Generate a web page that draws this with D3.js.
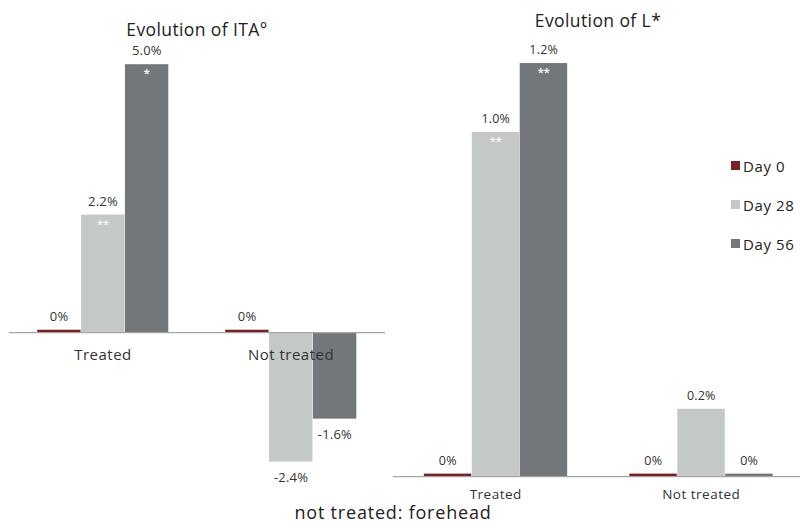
<!DOCTYPE html>
<html>
<head>
<meta charset="utf-8">
<script src="https://cdn.jsdelivr.net/npm/d3@7"></script>
<style>
  body { margin: 0; background: #fff; }
  svg { font-family: "Open Sans", "DejaVu Sans", sans-serif; }
  .title { fill: #222; letter-spacing: 0.4px; }
  .val { fill: #333; letter-spacing: 0.2px; }
  .cat { fill: #333; letter-spacing: 0.5px; }
  .star { fill: #f2f2f2; }
</style>
</head>
<body>
<svg id="chart" width="800" height="523"></svg>
<script>
// categories and series
const categories = ['Treated', 'Not treated'];
const series = ['Day 0', 'Day 28', 'Day 56'];
const colors = ['#7b1f24', '#c4c9c8', '#74777a'];

// Evolution of ITA° (%), one row per category, in series order
const itaValues = [[0.055, 2.2, 5.0], [0.055, -2.4, -1.6]];
const itaLabels = [['0%', '2.2%', '5.0%'], ['0%', '-2.4%', '-1.6%']];
const itaStars = [['', '**', '*'], ['', '', '']];

// Evolution of L* (%)
const lValues = [[0.009, 1.0, 1.2], [0.009, 0.197, 0.009]];
const lLabels = [['0%', '1.0%', '1.2%'], ['0%', '0.2%', '0%']];
const lStars = [['', '**', '**'], ['', '', '']];

const svg = d3.select('#chart');

function drawPanel(opt) {
  const x = d3.scaleBand().domain(categories).range(opt.xRange).paddingInner(0.3).paddingOuter(0.15);
  const xs = d3.scaleBand().domain(series).range([0, x.bandwidth()]);
  const y = d3.scaleLinear().domain(opt.yDomain).range(opt.yRange);
  const g = svg.append('g');

  const rows = [];
  categories.forEach((c, i) => {
    series.forEach((s, j) => {
      rows.push({c: c, s: s, j: j, v: opt.values[i][j], label: opt.labels[i][j], star: opt.stars[i][j]});
    });
  });

  g.selectAll('.bar')
    .data(rows)
    .join('rect')
    .attr('x', (d) => x(d.c) + xs(d.s))
    .attr('width', xs.bandwidth() - 0.5)
    .attr('y', (d) => y(Math.max(0, d.v)))
    .attr('height', (d) => Math.abs(y(d.v) - y(0)))
    .attr('fill', (d) => colors[d.j]);

  // axis line at zero
  g.append('line')
    .attr('x1', opt.xRange[0]).attr('x2', opt.axisEnd)
    .attr('y1', y(0)).attr('y2', y(0))
    .attr('stroke', '#a6a6a6').attr('stroke-width', 1.2);

  g.selectAll('.val')
    .data(rows)
    .join('text')
    .attr('class', 'val')
    .attr('x', (d) => x(d.c) + xs(d.s) + xs.bandwidth() / 2)
    .attr('y', (d) => d.v >= 0 ? y(d.v) - opt.labelGap : y(d.v) + opt.labelGap + opt.valSize - 2)
    .attr('text-anchor', 'middle')
    .attr('font-size', opt.valSize)
    .text((d) => d.label);

  g.selectAll('.star')
    .data(rows.filter((d) => d.star))
    .join('text')
    .attr('class', 'star')
    .attr('x', (d) => x(d.c) + xs(d.s) + xs.bandwidth() / 2)
    .attr('y', (d) => y(d.v) + 13)
    .attr('text-anchor', 'middle')
    .attr('font-size', 11)
    .attr('font-weight', 'bold')
    .text((d) => d.star);

  g.selectAll('.cat')
    .data(categories)
    .join('text')
    .attr('class', 'cat')
    .attr('x', (c) => x(c) + x.bandwidth() / 2)
    .attr('y', y(0) + opt.catGap)
    .attr('text-anchor', 'middle')
    .attr('font-size', opt.catSize)
    .text((c) => c);

  g.append('text')
    .attr('class', 'title')
    .attr('x', opt.titleX).attr('y', opt.titleY)
    .attr('text-anchor', 'middle')
    .attr('font-size', opt.titleSize)
    .text(opt.title);
}

drawPanel({
  title: 'Evolution of ITA°', titleX: 197, titleY: 36, titleSize: 17.5,
  values: itaValues, labels: itaLabels, stars: itaStars,
  xRange: [9, 385], axisEnd: 385,
  yDomain: [-3, 5.5], yRange: [332.7 + 3 * 53.7, 332.7 - 5.5 * 53.7],
  labelGap: 9, valSize: 13, catSize: 15, catGap: 27
});

drawPanel({
  title: 'Evolution of L*', titleX: 598, titleY: 27, titleSize: 17.5,
  values: lValues, labels: lLabels, stars: lStars,
  xRange: [393, 804], axisEnd: 800,
  yDomain: [0, 1.3], yRange: [476.7, 476.7 - 1.3 * 344.7],
  labelGap: 9, valSize: 12.5, catSize: 13.5, catGap: 22
});

// legend
const legend = svg.append('g').attr('transform', 'translate(731,161)');
const item = legend.selectAll('g')
  .data(series)
  .join('g')
  .attr('transform', (d, i) => `translate(0,${i * 39})`);
item.append('rect').attr('width', 9).attr('height', 9).attr('fill', (d, i) => colors[i]);
item.append('text').attr('x', 12).attr('y', 10.5).attr('font-size', 15)
  .attr('letter-spacing', 0.6).attr('fill', '#222').text((d) => d);

svg.append('text')
  .attr('x', 393).attr('y', 519)
  .attr('text-anchor', 'middle')
  .attr('font-size', 18)
  .attr('letter-spacing', 0.8)
  .attr('fill', '#222')
  .text('not treated: forehead');
</script>
</body>
</html>
